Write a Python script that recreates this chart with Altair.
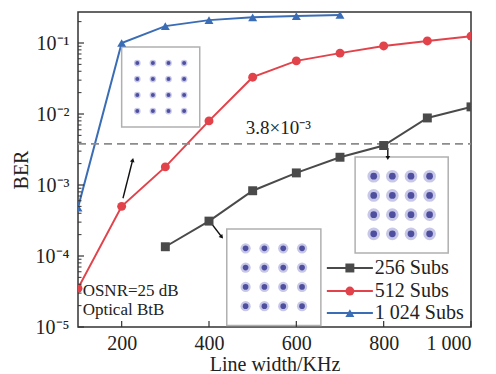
import altair as alt
import pandas as pd
import math

FONT = "Liberation Serif"

# ---------------- data ----------------
x_256 = [300, 400, 500, 600, 700, 800, 900, 1000]
ber_256 = [1.35e-4, 3.1e-4, 8.3e-4, 1.48e-3, 2.46e-3, 3.6e-3, 8.8e-3, 1.26e-2]
x_512 = [100, 200, 300, 400, 500, 600, 700, 800, 900, 1000]
ber_512 = [3.5e-5, 5.0e-4, 1.8e-3, 8.0e-3, 3.3e-2, 5.6e-2, 7.2e-2, 9.1e-2, 1.07e-1, 1.25e-1]
x_1024 = [100, 200, 300, 400, 500, 600, 700]
ber_1024 = [4.8e-4, 1.0e-1, 1.73e-1, 2.1e-1, 2.3e-1, 2.4e-1, 2.48e-1]

series_names = ["256 Subs", "512 Subs", "1 024 Subs"]
series_colors = ["#4a4a4a", "#e2434b", "#3a6db5"]
series_shapes = ["square", "circle", "triangle-up"]

x_tick_values = [200, 400, 600, 800, 1000]
x_tick_labels = ["200", "400", "600", "800", "1 000"]
y_tick_values = [1e-5, 1e-4, 1e-3, 1e-2, 1e-1]
y_tick_labels = ["10⁻⁵", "10⁻⁴", "10⁻³", "10⁻²", "10⁻¹"]
y_minor_mult = [2, 3, 4, 5, 6, 7, 8, 9]

threshold = 3.8e-3
threshold_label = "3.8×10⁻³"
note_lines = ["OSNR=25 dB", "Optical BtB"]

X_DOMAIN = [100, 1000]
Y_DOMAIN = [1e-5, 0.2733]

# inset boxes (data coordinates): x0, x1, y_bottom, y_top, outer size, inner size
insets = [
    (200.0, 378.8, 6.54e-3, 8.78e-2, 45, 16),
    (734.6, 947.8, 1.10e-4, 2.48e-3, 160, 45),
    (440.7, 656.2, 1.05e-5, 2.40e-4, 105, 32),
]
grid_frac = [0.2, 0.4, 0.6, 0.8]

# arrows: (x_start, y_start, x_end, y_end, head angle)
arrows = [
    (203, 6.5e-4, 225.2, 2.25e-3, 14),
    (406.3, 2.83e-4, 429.2, 1.85e-4, 141),
    (809.5, 3.32e-3, 809.5, 2.40e-3, 180),
]

# legend placement (data coordinates)
legend_x0, legend_x1, legend_xm, legend_xt = 669.9, 775.3, 722.6, 779.7
legend_rows_y = [6.78e-5, 3.21e-5, 1.574e-5]

# ---------------- tables ----------------
rows = []
for name, xs_, ys_ in zip(series_names, [x_256, x_512, x_1024], [ber_256, ber_512, ber_1024]):
    for xv, yv in zip(xs_, ys_):
        rows.append({"x": xv, "y": yv, "series": name})
df = pd.DataFrame(rows)

xs = alt.Scale(domain=X_DOMAIN, nice=False, zero=False)
ys = alt.Scale(type="log", domain=Y_DOMAIN, nice=False)
cs = alt.Scale(domain=series_names, range=series_colors)
ss = alt.Scale(domain=series_names, range=series_shapes)

y_label_expr = "[" + ",".join("'%s'" % s for s in y_tick_labels) + "][round(log(datum.value)/LN10)+5]"
x_label_expr = ("[" + ",".join("'%s'" % s for s in x_tick_labels) + "][indexof(["
                + ",".join(str(v) for v in x_tick_values) + "], datum.value)]")

x_axis = alt.Axis(values=x_tick_values, labelExpr=x_label_expr, ticks=False, domain=False,
                  grid=False, labelPadding=6, title="Line width/KHz", titleY=37,
                  titleBaseline="middle", labelFontSize=20, titleFontSize=20)
y_axis = alt.Axis(values=y_tick_values, labelExpr=y_label_expr, ticks=False, domain=False,
                  grid=False, labelPadding=9, title="BER", titleX=-57, titleY=157.5,
                  titleAngle=-90, titleBaseline="middle", titleAlign="center",
                  labelFontSize=20, titleFontSize=20)


def X(field):
    return alt.X(field, scale=xs, axis=x_axis)


def Y(field):
    return alt.Y(field, scale=ys, axis=y_axis)


# threshold line
thr_df = pd.DataFrame({"x": [X_DOMAIN[0]], "x2": [X_DOMAIN[1]], "y": [threshold]})
thr = alt.Chart(thr_df).mark_rule(color="#8c8c8c", strokeWidth=1.6, strokeDash=[8, 5]).encode(
    x=X("x:Q"), x2="x2:Q", y=Y("y:Q"))

thr_txt = alt.Chart(pd.DataFrame({"x": [484], "y": [6.35e-3], "t": [threshold_label]})).mark_text(
    font=FONT, fontSize=19, align="left", baseline="middle", color="#222").encode(
    x=X("x:Q"), y=Y("y:Q"), text="t:N")

# insets
box_rows, dot_rows = [], []
for i, (x0, x1, yb, yt, so, si) in enumerate(insets):
    box_rows.append({"x": x0, "x2": x1, "y": yb, "y2": yt})
    lt, lb = math.log10(yt), math.log10(yb)
    for fx in grid_frac:
        for fy in grid_frac:
            dot_rows.append({"x": x0 + fx * (x1 - x0), "y": 10 ** (lt - fy * (lt - lb)),
                             "so": so, "si": si})
box_df = pd.DataFrame(box_rows)
dot_df = pd.DataFrame(dot_rows)

boxes = alt.Chart(box_df).mark_rect(fill="white", stroke="#b0b0b0", strokeWidth=1.5).encode(
    x=X("x:Q"), x2="x2:Q", y=Y("y:Q"), y2="y2:Q")
dots_outer = alt.Chart(dot_df).mark_circle(color="#8f8fd2", opacity=0.5).encode(
    x=X("x:Q"), y=Y("y:Q"), size=alt.Size("so:Q", scale=None))
dots_inner = alt.Chart(dot_df).mark_circle(color="#3a3a92", opacity=0.85).encode(
    x=X("x:Q"), y=Y("y:Q"), size=alt.Size("si:Q", scale=None))

# arrows
arr_df = pd.DataFrame([{"x": a, "y": b, "x2": c, "y2": d, "ang": e} for a, b, c, d, e in arrows])
arr_lines = alt.Chart(arr_df).mark_rule(color="#111", strokeWidth=1.4).encode(
    x=X("x:Q"), y=Y("y:Q"), x2="x2:Q", y2="y2:Q")
arr_heads = alt.Chart(arr_df).mark_point(shape="triangle-up", filled=True, color="#111", size=22,
                                          opacity=1).encode(
    x=X("x2:Q"), y=Y("y2:Q"), angle=alt.Angle("ang:Q", scale=None))

# series
lines = alt.Chart(df).mark_line(strokeWidth=2, clip=True).encode(
    x=X("x:Q"), y=Y("y:Q"),
    color=alt.Color("series:N", scale=cs, legend=None), detail="series:N")
points = alt.Chart(df).mark_point(filled=True, opacity=1, size=80, clip=True).encode(
    x=X("x:Q"), y=Y("y:Q"),
    color=alt.Color("series:N", scale=cs, legend=None),
    shape=alt.Shape("series:N", scale=ss, legend=None))

# note text
note_df = pd.DataFrame({"x": [110.6, 110.6], "y": [3.2e-5, 1.75e-5], "t": note_lines})
note = alt.Chart(note_df).mark_text(font=FONT, fontSize=17, align="left", baseline="middle",
                                    color="#222").encode(
    x=X("x:Q"), y=Y("y:Q"), text="t:N")

# legend
leg_df = pd.DataFrame({"series": series_names, "y": legend_rows_y,
                       "x": [legend_x0] * 3, "x2": [legend_x1] * 3,
                       "xm": [legend_xm] * 3, "xt": [legend_xt] * 3})
leg_lines = alt.Chart(leg_df).mark_rule(strokeWidth=2).encode(
    x=X("x:Q"), x2="x2:Q", y=Y("y:Q"),
    color=alt.Color("series:N", scale=cs, legend=None))
leg_pts = alt.Chart(leg_df).mark_point(filled=True, opacity=1, size=80).encode(
    x=X("xm:Q"), y=Y("y:Q"),
    color=alt.Color("series:N", scale=cs, legend=None),
    shape=alt.Shape("series:N", scale=ss, legend=None))
leg_txt = alt.Chart(leg_df).mark_text(font=FONT, fontSize=20, align="left", baseline="middle",
                                      color="#222").encode(
    x=X("xt:Q"), y=Y("y:Q"), text="series:N")

# inward tick marks
ytick_major = pd.DataFrame({"y": y_tick_values})
ytick_minor = pd.DataFrame({"y": [d * m for d in y_tick_values for m in y_minor_mult
                                  if d * m < Y_DOMAIN[1]]})
xtick_df = pd.DataFrame({"x": x_tick_values})
yt_major = alt.Chart(ytick_major).mark_rule(color="#333", strokeWidth=1.2).encode(
    y=Y("y:Q"), x=alt.value(0), x2=alt.value(6))
yt_minor = alt.Chart(ytick_minor).mark_rule(color="#333", strokeWidth=1).encode(
    y=Y("y:Q"), x=alt.value(0), x2=alt.value(3.5))
xt = alt.Chart(xtick_df).mark_rule(color="#333", strokeWidth=1.2).encode(
    x=X("x:Q"), y=alt.value(315), y2=alt.value(309))

chart = alt.layer(
    lines, thr, boxes, dots_outer, dots_inner, arr_lines, arr_heads, thr_txt,
    points, note, leg_lines, leg_pts, leg_txt, yt_major, yt_minor, xt
).properties(
    width=393, height=315,
    autosize=alt.AutoSizeParams(type="none"),
    padding={"left": 78, "top": 12, "right": 25, "bottom": 47},
    background="white",
).configure_view(stroke="#333", strokeWidth=1.5).configure_axis(
    labelFont=FONT, titleFont=FONT, labelColor="#222", titleColor="#222", titleFontWeight="normal"
)

chart.save("out.html", embed_options={"renderer": "svg", "actions": False})
